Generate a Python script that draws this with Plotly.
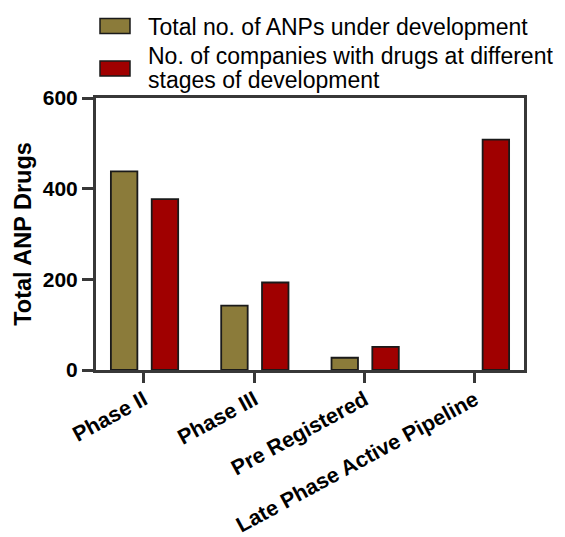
import plotly.graph_objects as go

categories = ["Phase II", "Phase III", "Pre Registered", "Late Phase Active Pipeline"]
total_anps = [438, 142, 27, None]
companies = [377, 193, 51, 508]
series_names = ["Total no. of ANPs under development",
                "No. of companies with drugs at different<br>stages of development"]
colors = ["#8B7B3A", "#A00000"]
y_ticks = [0, 200, 400, 600]

# page is 565x537, body has default 8px margin -> figure drawn 8px in
OFF = 8
W, H = 565 - OFF, 537 - OFF
L, T = 96 - OFF, 98 - OFF
R = W - (524 - OFF)
B = H - (370 - OFF)
PW, PH = W - L - R, H - T - B
FONT = "Liberation Sans, Arial, sans-serif"


def px(x):
    return (x - OFF - L) / PW


def py(y):
    return (H - B - (y - OFF)) / PH


fig = go.Figure()
for vals, name, col, off in zip([total_anps, companies], series_names, colors, [-0.30, 0.07]):
    fig.add_trace(go.Bar(
        x=list(range(len(categories))), y=vals, name=name,
        width=0.24, offset=off,
        marker=dict(color=col, line=dict(color="#1a1a1a", width=1.8)),
        showlegend=False,
    ))

axis_col = "#383838"
fig.update_layout(
    width=W, height=H,
    margin=dict(l=L, r=R, t=T, b=B, pad=0, autoexpand=False),
    plot_bgcolor="white", paper_bgcolor="white",
    barmode="overlay",
    font=dict(family=FONT, color="black"),
    xaxis=dict(
        range=[-0.435, 3.445], tickmode="array",
        tickvals=list(range(len(categories))), ticktext=categories,
        tickangle=-28.5, tickfont=dict(size=21.5, family=FONT, weight="bold"),
        ticklabelstandoff=-4,
        showline=True, linecolor=axis_col, linewidth=3, mirror=True,
        ticks="outside", ticklen=10, tickwidth=3, tickcolor=axis_col,
        showgrid=False, zeroline=False, automargin=False,
    ),
    yaxis=dict(
        range=[0, 600], tickvals=y_ticks,
        tickfont=dict(size=21, family=FONT, weight="bold"),
        title=dict(text="Total ANP Drugs", font=dict(size=23.5, family=FONT, weight="bold"), standoff=5),
        showline=True, linecolor=axis_col, linewidth=3, mirror=True,
        ticks="outside", ticklen=11, tickwidth=3, tickcolor=axis_col,
        showgrid=False, zeroline=False, automargin=False,
    ),
)

# custom legend
legend_rows = [(18.5, 33.5, [27.0]), (61.0, 76.0, [56.0, 80.0])]
for (y0, y1, text_ys), name, col in zip(legend_rows, series_names, colors):
    fig.add_shape(type="rect", xref="paper", yref="paper",
                  x0=px(100), x1=px(130), y0=py(y1), y1=py(y0),
                  fillcolor=col, line=dict(color="#1a1a1a", width=1.5))
    for line_text, ty in zip(name.split("<br>"), text_ys):
        fig.add_annotation(xref="paper", yref="paper", x=px(146), y=py(ty),
                           text=line_text, showarrow=False, xanchor="left", yanchor="middle",
                           font=dict(size=23, family=FONT, color="black"))

fig.write_html("out.html")
